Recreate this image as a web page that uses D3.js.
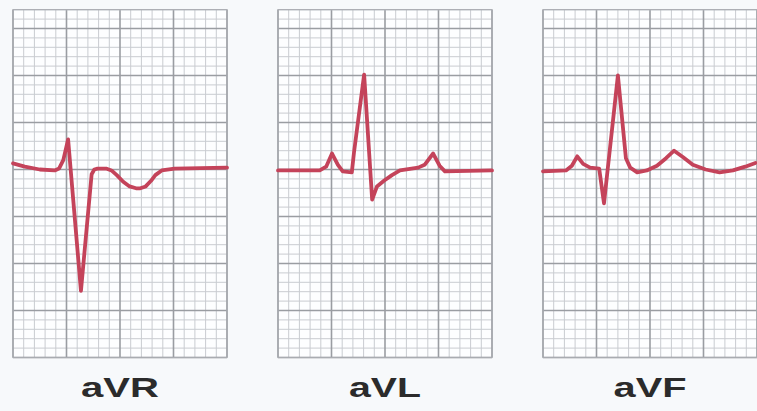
<!DOCTYPE html>
<html>
<head>
<meta charset="utf-8">
<script src="https://d3js.org/d3.v7.min.js"></script>
<style>
  body { margin: 0; background: #f7f9fb; }
  .minor { stroke: #c9ccd1; stroke-width: 1; }
  .major { stroke: #9a9da2; stroke-width: 1.6; }
  .trace { fill: none; stroke: #c4435a; stroke-width: 3.8; stroke-linejoin: round; stroke-linecap: round; }
  .label { font: bold 28px "Liberation Sans", Arial, sans-serif; fill: #2b2b2b; }
</style>
</head>
<body>
<script>
// leads, in small-box units (x: 0..20 boxes, y: boxes above baseline)
const leads = ["aVR", "aVL", "aVF"];

const avrT = [0, 1.1, 2.5, 3.9, 4.3, 4.7, 5.15, 6.35, 7.35, 7.6, 7.9, 8.7, 9.2, 9.7, 10.3, 10.9, 11.5, 11.9, 12.4, 12.9, 13.3, 13.9, 15.1, 20];
const avrV = [0.65, 0.3, 0, -0.1, 0.1, 1.0, 3.2, -12.9, -0.5, 0, 0.1, 0.1, -0.1, -0.6, -1.3, -1.8, -2.0, -2.0, -1.8, -1.2, -0.6, -0.1, 0.1, 0.2];

const avlT = [0, 3.9, 4.5, 5.05, 5.6, 6.05, 6.9, 7.1, 8.05, 8.8, 9.25, 9.9, 10.65, 11.4, 13.1, 13.7, 14.5, 15.1, 15.6, 20];
const avlV = [-0.1, -0.1, 0.3, 1.7, 0.5, -0.2, -0.3, 1.8, 10.1, -3.2, -1.8, -1.2, -0.6, -0.1, 0.2, 0.5, 1.7, 0.4, -0.2, -0.1];

const avfT = [0, 2.15, 2.7, 3.2, 3.75, 4.4, 5.25, 5.7, 7.0, 7.75, 8.15, 8.8, 9.7, 10.65, 11.5, 12.25, 13.1, 14.0, 15.2, 16.5, 17.75, 18.9, 19.85];
const avfV = [-0.2, -0.1, 0.4, 1.4, 0.6, 0.2, 0.1, -3.6, 10.0, 1.2, 0.2, -0.3, -0.1, 0.4, 1.2, 2.0, 1.3, 0.5, 0, -0.3, -0.1, 0.3, 0.7];

const series = [[avrT, avrV], [avlT, avlV], [avfT, avfV]];
const labelWidths = [78, 72, 73];

const W = 757, H = 411;
const panelX = [13, 278, 543], panelW = 214;
const boxesX = 20, yTop = 17, yBot = -20;

const svg = d3.select("body").append("svg")
  .attr("width", W).attr("height", H);

const y = d3.scaleLinear().domain([yBot, yTop]).range([357.5, 9.7]);

leads.forEach((name, i) => {
  const x = d3.scaleLinear().domain([0, boxesX]).range([panelX[i], panelX[i] + panelW]);
  const g = svg.append("g");

  g.append("rect")
    .attr("x", x(0)).attr("y", y(yTop))
    .attr("width", panelW).attr("height", y(yBot) - y(yTop))
    .attr("fill", "#fdfeff");

  const xs = d3.range(0, boxesX + 1);
  const ys = d3.range(yBot, yTop + 1);

  // minor first, major on top
  [false, true].forEach(maj => {
    g.selectAll(null).data(xs.filter(d => (d % 5 === 0) === maj)).enter().append("line")
      .attr("class", maj ? "major" : "minor")
      .attr("x1", d => x(d)).attr("x2", d => x(d))
      .attr("y1", y(yTop)).attr("y2", y(yBot));
    g.selectAll(null).data(ys.filter(d => (d % 5 === 0 || d === yTop) === maj)).enter().append("line")
      .attr("class", d => (maj && d !== yTop) ? "major" : "minor")
      .attr("y1", d => y(d)).attr("y2", d => y(d))
      .attr("x1", x(0)).attr("x2", x(boxesX));
  });
  // panel edges
  g.append("rect")
    .attr("x", x(0)).attr("y", y(yTop))
    .attr("width", panelW).attr("height", y(yBot) - y(yTop))
    .attr("fill", "none").attr("stroke", "#a9acb1").attr("stroke-width", 1.2);

  const [ts, vs] = series[i];
  const line = d3.line()
    .x(d => x(d[0]))
    .y(d => y(d[1]));

  g.append("path")
    .attr("class", "trace")
    .attr("d", line(ts.map((t, k) => [t, vs[k]])));

  g.append("text")
    .attr("class", "label")
    .attr("x", x(boxesX / 2))
    .attr("y", 397)
    .attr("text-anchor", "middle")
    .attr("textLength", labelWidths[i])
    .attr("lengthAdjust", "spacingAndGlyphs")
    .text(name);
});
</script>
</body>
</html>
